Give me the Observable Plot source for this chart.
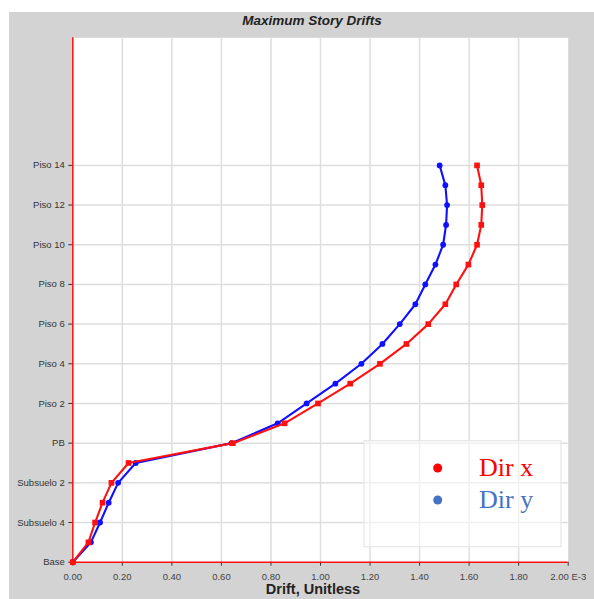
<!DOCTYPE html>
<html>
<head>
<meta charset="utf-8">
<script src="https://cdn.jsdelivr.net/npm/d3@7"></script>
<script src="https://cdn.jsdelivr.net/npm/@observablehq/plot@0.6"></script>
<style>
  html, body { margin: 0; padding: 0; background: #ffffff; }
  #wrap { position: relative; width: 594px; height: 599px; overflow: hidden; }
  #panel { position: absolute; left: 9px; top: 12px; width: 585px; height: 587px; background: #d3d3d3; }
  #chart { position: absolute; left: 0; top: 0; }
</style>
</head>
<body>
<div id="wrap"><div id="panel"></div><div id="chart"></div></div>
<script>
// Story levels (bottom to top)
const stories = ["Base", "Subsuelo 5", "Subsuelo 4", "Subsuelo 3", "Subsuelo 2", "Subsuelo 1", "PB",
  "Piso 1", "Piso 2", "Piso 3", "Piso 4", "Piso 5", "Piso 6", "Piso 7", "Piso 8", "Piso 9",
  "Piso 10", "Piso 11", "Piso 12", "Piso 13", "Piso 14"];
// Drift values (x 1E-3)
const dirX = [0, 0.063, 0.090, 0.120, 0.156, 0.225, 0.646, 0.855, 0.990, 1.120, 1.240, 1.347, 1.435,
  1.504, 1.548, 1.597, 1.632, 1.649, 1.653, 1.649, 1.632];
const dirY = [0, 0.073, 0.110, 0.145, 0.183, 0.254, 0.641, 0.827, 0.944, 1.060, 1.165, 1.250, 1.320,
  1.383, 1.423, 1.464, 1.495, 1.507, 1.511, 1.504, 1.481];
const xTicks = [0, 0.2, 0.4, 0.6, 0.8, 1.0, 1.2, 1.4, 1.6, 1.8, 2.0];
const yTickStories = ["Base", "Subsuelo 4", "Subsuelo 2", "PB", "Piso 2", "Piso 4", "Piso 6", "Piso 8", "Piso 10", "Piso 12", "Piso 14"];
const seriesNames = ["Dir x", "Dir y"];
const title = "Maximum Story Drifts";
const xLabel = "Drift, Unitless";

const yTicks = yTickStories.map(s => stories.indexOf(s));
const rowsX = stories.map((s, i) => ({level: i, drift: dirX[i]}));
const rowsY = stories.map((s, i) => ({level: i, drift: dirY[i]}));
const fmtX = d => Math.abs(d - 2) < 1e-9 ? d.toFixed(2) + " E-3" : d.toFixed(2);

const red = "#ff1010";
const blue = "#1010ff";
const grid = "#dedede";

const svg = Plot.plot({
  width: 594,
  height: 599,
  marginLeft: 72.3,
  marginRight: 26.3,
  marginTop: 37.3,
  marginBottom: 37.3,
  style: {background: "transparent", fontFamily: "'Liberation Sans', Arial, sans-serif", fontSize: "9.5px", color: "#444"},
  x: {domain: [0, 2], label: null},
  y: {domain: [0, 26.43], label: null},
  marks: [
    Plot.frame({fill: "white", stroke: null}),
    Plot.gridX(xTicks.slice(1, -1), {stroke: grid, strokeOpacity: 1, strokeWidth: 1.5}),
    Plot.gridY(yTicks.slice(1), {stroke: grid, strokeOpacity: 1, strokeWidth: 1.5}),
    Plot.axisX(xTicks, {tickSize: 4, tickPadding: 7, tickFormat: fmtX, stroke: "#333", fill: "#444"}),
    Plot.axisY(yTicks, {tickSize: 4, tickPadding: 4, tickFormat: d => stories[d], stroke: "#333", fill: "#333"}),
    Plot.ruleX([0], {stroke: red, strokeWidth: 1.5}),
    Plot.ruleY([0], {stroke: red, strokeWidth: 1.5}),
    Plot.line(rowsY, {x: "drift", y: "level", stroke: blue, strokeWidth: 2.1}),
    Plot.dot(rowsY, {x: "drift", y: "level", fill: blue, r: 2.9, symbol: "circle"}),
    Plot.line(rowsX, {x: "drift", y: "level", stroke: red, strokeWidth: 2.1}),
    Plot.dot(rowsX, {x: "drift", y: "level", fill: red, r: 3.2, symbol: "square"})
  ]
});
document.getElementById("chart").appendChild(svg);

const s = d3.select(svg);
s.append("text").attr("x", 312).attr("y", 25).attr("text-anchor", "middle")
  .style("font-family", "'Liberation Sans', Arial, sans-serif").style("font-size", "13.5px")
  .style("font-weight", "bold").style("font-style", "italic").attr("fill", "#222").text(title);
s.append("text").attr("x", 313).attr("y", 594).attr("text-anchor", "middle")
  .style("font-family", "'Liberation Sans', Arial, sans-serif").style("font-size", "14.5px")
  .style("font-weight", "bold").attr("fill", "#222").text(xLabel);

// legend
const lg = s.append("g");
lg.append("rect").attr("x", 364).attr("y", 440.7).attr("width", 197).attr("height", 106)
  .attr("fill", "white").attr("fill-opacity", 0.55).attr("stroke", "#e6e6e6").attr("stroke-width", 1.2);
const legendColors = ["#ff0000", "#4472c4"];
seriesNames.forEach((name, i) => {
  const cy = 468 + i * 32;
  lg.append("circle").attr("cx", 437.7).attr("cy", cy).attr("r", 4.5).attr("fill", legendColors[i]);
  lg.append("text").attr("x", 479).attr("y", cy + 8).attr("text-anchor", "start").attr("fill", legendColors[i])
    .style("font-family", "'Liberation Serif', 'Times New Roman', serif").style("font-size", "26px").text(name);
});
</script>
</body>
</html>
